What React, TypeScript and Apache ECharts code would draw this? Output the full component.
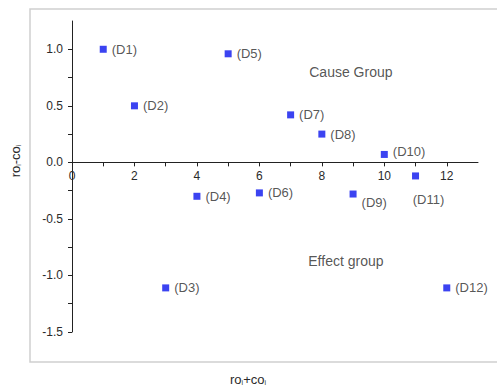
import React, { useEffect, useRef } from "react";
import * as echarts from "echarts";

const names = ["D1", "D2", "D3", "D4", "D5", "D6", "D7", "D8", "D9", "D10", "D11", "D12"];
const xValues = [1, 2, 3, 4, 5, 6, 7, 8, 9, 10, 11, 12];
const yValues = [1.0, 0.5, -1.11, -0.3, 0.96, -0.27, 0.42, 0.25, -0.28, 0.07, -0.12, -1.11];
const groupLabels = ["Cause Group", "Effect group"];
const groupX = [8.93, 8.77];
const groupY = [0.8, -0.87];
const xTickLabels = ["0", "2", "4", "6", "8", "10", "12"];
const yTickLabels = ["-1.5", "-1.0", "-0.5", "0.0", "0.5", "1.0"];

const FONT = "Liberation Sans, Arial, sans-serif";
const TXT = "#2a2a2a";

const Y_MIN = -1.5;
const Y_MAX = 1.25;
const GRID_TOP = 21;
const GRID_H = 311;

export default function App() {
  const ref = useRef<HTMLDivElement>(null);
  useEffect(() => {
    if (!ref.current) return;
    const chart = echarts.init(ref.current, undefined, { renderer: "svg" });
    const labelPlace: Record<string, any> = {
      D9: { position: "right", distance: 5, offset: [0, 8] },
      D10: { position: "right", distance: 5, offset: [0, -3] },
      D11: { position: "bottom", distance: 14, offset: [13, 0] },
    };
    const points = names.map((n, i) => {
      const lp = labelPlace[n] || { position: "right", distance: 5 };
      return {
        name: n,
        value: [xValues[i], yValues[i]],
        label: { ...lp },
      };
    });
    const groups = groupLabels.map((g, i) => ({ name: g, value: [groupX[i], groupY[i]] }));
    // distance from the bottom of the grid to the zero line, so the x axis crosses at y = 0
    const zeroOffset = -(GRID_H * (0 - Y_MIN)) / (Y_MAX - Y_MIN);
    chart.setOption({
      animation: false,
      textStyle: { fontFamily: FONT },
      grid: { left: 72, top: GRID_TOP, width: 406, height: GRID_H, containLabel: false },
      xAxis: {
        type: "value",
        min: 0,
        max: 13,
        interval: 1,
        position: "bottom",
        offset: zeroOffset,
        axisLine: { show: true, onZero: false, lineStyle: { color: "#222", width: 1 } },
        axisTick: { show: true, length: 4, lineStyle: { color: "#222" } },
        axisLabel: {
          fontSize: 12,
          color: TXT,
          margin: 8,
          showMaxLabel: false,
          formatter: (v: number) => (xTickLabels.includes(String(v)) ? String(v) : ""),
        },
        splitLine: { show: false },
      },
      yAxis: {
        type: "value",
        min: Y_MIN,
        max: Y_MAX,
        interval: 0.25,
        axisLine: { show: true, onZero: false, lineStyle: { color: "#222", width: 1 } },
        axisTick: { show: true, length: 4, lineStyle: { color: "#222" } },
        axisLabel: {
          fontSize: 12,
          color: TXT,
          margin: 9,
          showMaxLabel: false,
          formatter: (v: number) => {
            const s = v.toFixed(1);
            return Math.abs(v * 2 - Math.round(v * 2)) < 1e-6 && yTickLabels.includes(s) ? s : "";
          },
        },
        splitLine: { show: false },
      },
      series: [
        {
          type: "scatter",
          symbol: "rect",
          symbolSize: 7,
          itemStyle: { color: "#0a14ee" },
          label: {
            show: true,
            formatter: (p: any) => "(" + p.name + ")",
            fontSize: 13,
            color: TXT,
            fontFamily: FONT,
          },
          data: points,
        },
        {
          type: "scatter",
          symbolSize: 0,
          silent: true,
          label: {
            show: true,
            position: "inside",
            formatter: (p: any) => p.name,
            fontSize: 14,
            color: TXT,
            fontFamily: FONT,
          },
          data: groups,
        },
      ],
      graphic: [
        {
          type: "rect",
          shape: { x: 30, y: 9, width: 480, height: 353 },
          style: { fill: "none", stroke: "#cfcfcf", lineWidth: 1.5 },
          silent: true,
        },
        {
          type: "text",
          x: 248,
          y: 379,
          style: {
            text: "ro{s|i}+co{s|i}",
            align: "center",
            verticalAlign: "middle",
            fontSize: 13,
            fontFamily: FONT,
            fill: TXT,
            rich: {
              s: { fontSize: 7, fontFamily: FONT, fill: TXT, verticalAlign: "bottom", padding: [6, 0, 0, 0] },
            },
          },
        },
        {
          type: "text",
          x: 15,
          y: 161,
          rotation: Math.PI / 2,
          style: {
            text: "ro{s|i}-co{s|i}",
            align: "center",
            verticalAlign: "middle",
            fontSize: 13,
            fontFamily: FONT,
            fill: TXT,
            rich: {
              s: { fontSize: 7, fontFamily: FONT, fill: TXT, verticalAlign: "bottom", padding: [6, 0, 0, 0] },
            },
          },
        },
      ],
    });
    return () => chart.dispose();
  }, []);
  return (
    <div
      ref={ref}
      style={{ position: "fixed", left: 0, top: 0, width: 497, height: 387, background: "#fff" }}
    />
  );
}
